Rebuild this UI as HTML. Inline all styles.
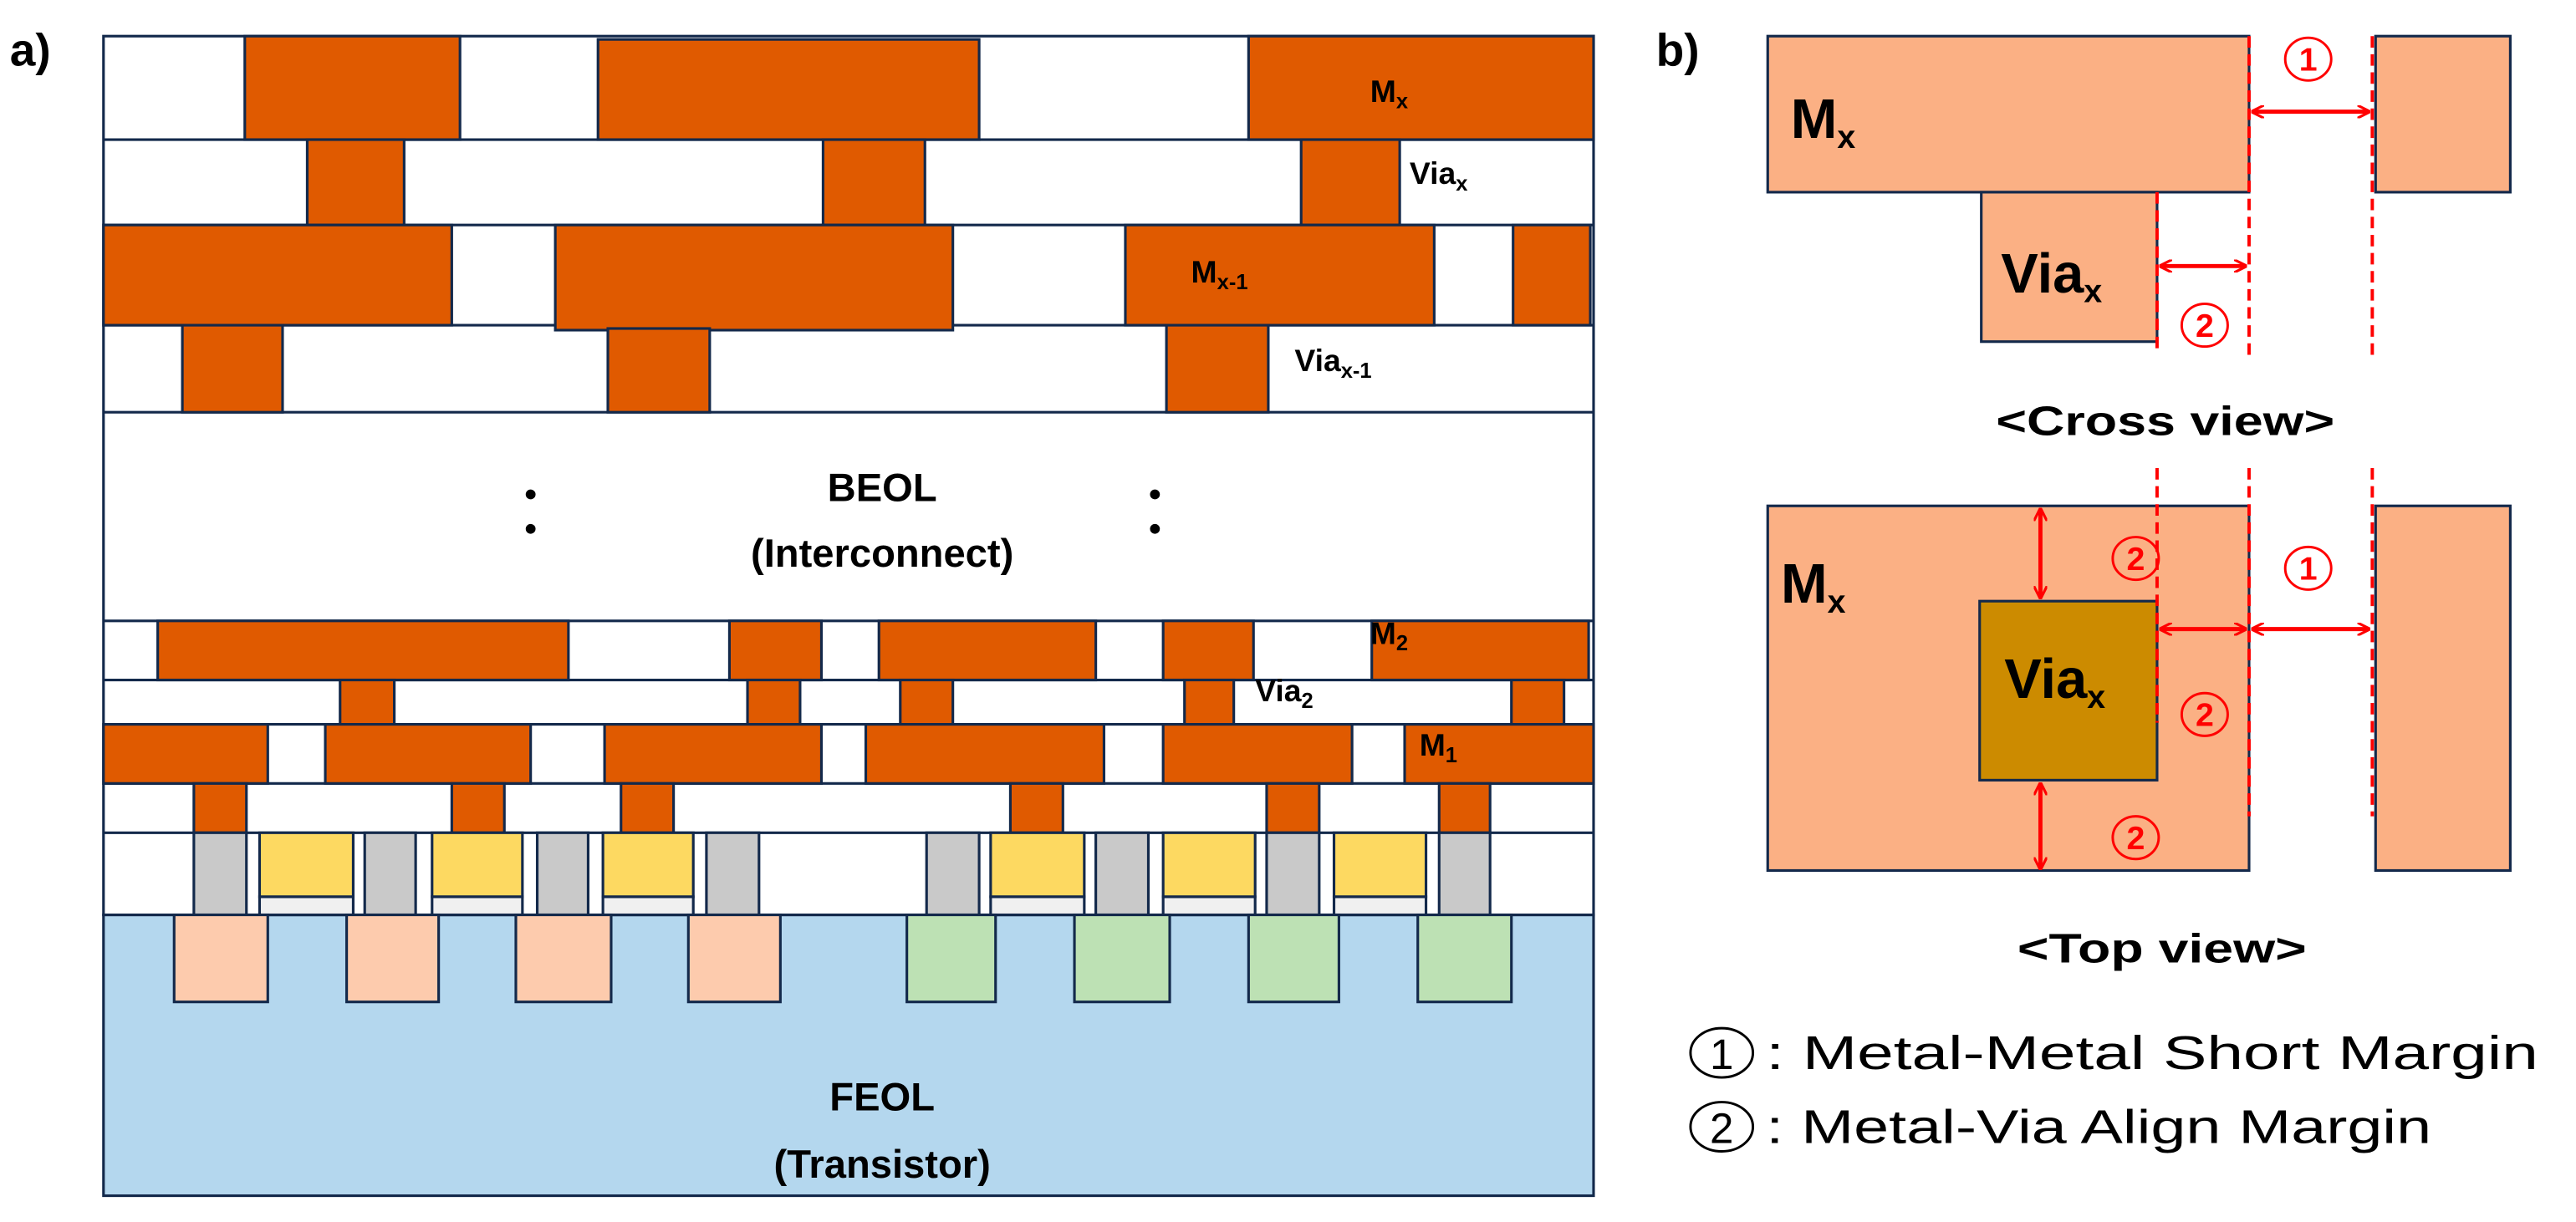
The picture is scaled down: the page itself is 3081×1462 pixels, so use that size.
<!DOCTYPE html>
<html><head><meta charset="utf-8"><style>html,body{margin:0;padding:0;background:#fff}svg{display:block}</style></head>
<body>
<svg width="3081" height="1462" viewBox="0 0 1568 744" preserveAspectRatio="none" xmlns="http://www.w3.org/2000/svg">
<defs>
<marker id="ah" viewBox="0 0 10 10" refX="9" refY="5" markerWidth="8" markerHeight="8" orient="auto-start-reverse" markerUnits="userSpaceOnUse"><path d="M0,0 L10,5 L0,10" fill="none" stroke="#f00" stroke-width="2"/></marker>
</defs>
<g font-family="Liberation Sans, sans-serif" font-weight="bold">
<text x="6" y="40" font-size="28">a)</text>
<text x="1008" y="40" font-size="28">b)</text>
</g>
<g stroke="#13294b" stroke-width="1.6">
<rect x="63" y="557" width="907" height="171" fill="#b4d7ee"/>
<rect x="63" y="22" width="907" height="535" fill="#fff"/>
<line x1="63" x2="970" y1="85" y2="85"/><line x1="63" x2="970" y1="137" y2="137"/>
<line x1="63" x2="970" y1="198" y2="198"/><line x1="63" x2="970" y1="251" y2="251"/>
<line x1="63" x2="970" y1="378" y2="378"/><line x1="63" x2="970" y1="414" y2="414"/>
<line x1="63" x2="970" y1="441" y2="441"/><line x1="63" x2="970" y1="477" y2="477"/>
<line x1="63" x2="970" y1="507" y2="507"/>
<g fill="#e05a00">
<rect x="149" y="22" width="131" height="63"/><rect x="364" y="24" width="232" height="61"/><rect x="760" y="22" width="210" height="63"/>
<rect x="187" y="85" width="59" height="52"/><rect x="501" y="85" width="62" height="52"/><rect x="792" y="85" width="60" height="52"/>
<rect x="63" y="137" width="212" height="61"/><rect x="338" y="137" width="242" height="64"/><rect x="685" y="137" width="188" height="61"/><rect x="921" y="137" width="47" height="61"/>
<rect x="111" y="198" width="61" height="53"/><rect x="370" y="200" width="62" height="51"/><rect x="710" y="198" width="62" height="53"/>
<rect x="96" y="378" width="250" height="36"/><rect x="444" y="378" width="56" height="36"/><rect x="535" y="378" width="132" height="36"/><rect x="708" y="378" width="55" height="36"/><rect x="835" y="378" width="132" height="36"/>
<rect x="207" y="414" width="33" height="27"/><rect x="455" y="414" width="32" height="27"/><rect x="548" y="414" width="32" height="27"/><rect x="721" y="414" width="30" height="27"/><rect x="920" y="414" width="32" height="27"/>
<rect x="63" y="441" width="100" height="36"/><rect x="198" y="441" width="125" height="36"/><rect x="368" y="441" width="132" height="36"/><rect x="527" y="441" width="145" height="36"/><rect x="708" y="441" width="115" height="36"/><rect x="855" y="441" width="115" height="36"/>
<rect x="118" y="477" width="32" height="30"/><rect x="275" y="477" width="32" height="30"/><rect x="378" y="477" width="32" height="30"/><rect x="615" y="477" width="32" height="30"/><rect x="771" y="477" width="32" height="30"/><rect x="876" y="477" width="31" height="30"/>
</g>
<g fill="#c9c9c9">
<rect x="118" y="507" width="32" height="50"/><rect x="222" y="507" width="31" height="50"/><rect x="327" y="507" width="31" height="50"/><rect x="430" y="507" width="32" height="50"/>
<rect x="564" y="507" width="32" height="50"/><rect x="667" y="507" width="32" height="50"/><rect x="771" y="507" width="32" height="50"/><rect x="876" y="507" width="31" height="50"/>
</g>
<g fill="#fdd961">
<rect x="158" y="507" width="57" height="39"/><rect x="263" y="507" width="55" height="39"/><rect x="367" y="507" width="55" height="39"/>
<rect x="603" y="507" width="57" height="39"/><rect x="708" y="507" width="56" height="39"/><rect x="812" y="507" width="56" height="39"/>
</g>
<g fill="#f0f0f0">
<rect x="158" y="546" width="57" height="11"/><rect x="263" y="546" width="55" height="11"/><rect x="367" y="546" width="55" height="11"/>
<rect x="603" y="546" width="57" height="11"/><rect x="708" y="546" width="56" height="11"/><rect x="812" y="546" width="56" height="11"/>
</g>
<g fill="#fdcbad"><rect x="106" y="557" width="57" height="53"/><rect x="211" y="557" width="56" height="53"/><rect x="314" y="557" width="58" height="53"/><rect x="419" y="557" width="56" height="53"/></g>
<g fill="#bde1b4"><rect x="552" y="557" width="54" height="53"/><rect x="654" y="557" width="58" height="53"/><rect x="760" y="557" width="55" height="53"/><rect x="863" y="557" width="57" height="53"/></g>
</g>
<g fill="#000"><circle cx="323" cy="301" r="3"/><circle cx="323" cy="322" r="3"/><circle cx="703" cy="301" r="3"/><circle cx="703" cy="322" r="3"/></g>
<g font-family="Liberation Sans, sans-serif" font-weight="bold" fill="#000">
<text x="537" y="305" font-size="24" text-anchor="middle">BEOL</text>
<text x="537" y="345" font-size="24" text-anchor="middle">(Interconnect)</text>
<text x="537" y="676" font-size="24" text-anchor="middle">FEOL</text>
<text x="537" y="717" font-size="24" text-anchor="middle">(Transistor)</text>
<g font-size="19">
<text x="834" y="62">M<tspan font-size="13" dy="4">x</tspan></text>
<text x="858" y="112">Via<tspan font-size="13" dy="4">x</tspan></text>
<text x="725" y="172">M<tspan font-size="13" dy="4">x-1</tspan></text>
<text x="788" y="226">Via<tspan font-size="13" dy="4">x-1</tspan></text>
<text x="834" y="392">M<tspan font-size="13" dy="4">2</tspan></text>
<text x="764" y="427">Via<tspan font-size="13" dy="4">2</tspan></text>
<text x="864" y="460">M<tspan font-size="13" dy="4">1</tspan></text>
</g>
</g>
<!-- panel b -->
<g stroke="#13294b" stroke-width="1.6" fill="#fbb084">
<rect x="1076" y="22" width="293" height="95"/><rect x="1446" y="22" width="82" height="95"/>
<rect x="1206" y="117" width="107" height="91"/>
<rect x="1076" y="308" width="293" height="222"/><rect x="1446" y="308" width="82" height="222"/>
<rect x="1205" y="366" width="108" height="109" fill="#cc8b00"/>
</g>
<g stroke="#f00" stroke-width="2" stroke-dasharray="7,4" fill="none">
<line x1="1313" y1="117" x2="1313" y2="212"/><line x1="1369" y1="22" x2="1369" y2="218"/><line x1="1444" y1="22" x2="1444" y2="218"/>
<line x1="1313" y1="285" x2="1313" y2="440"/><line x1="1369" y1="285" x2="1369" y2="497"/><line x1="1444" y1="285" x2="1444" y2="497"/>
</g>
<g stroke="#f00" stroke-width="2.5" marker-start="url(#ah)" marker-end="url(#ah)">
<line x1="1371" y1="68" x2="1442" y2="68"/>
<line x1="1315" y1="162" x2="1367" y2="162"/>
<line x1="1315" y1="383" x2="1367" y2="383"/>
<line x1="1371" y1="383" x2="1442" y2="383"/>
<line x1="1242" y1="310" x2="1242" y2="364"/>
<line x1="1242" y1="477" x2="1242" y2="529"/>
</g>
<g fill="none" stroke="#f00" stroke-width="1.5">
<ellipse cx="1405" cy="36" rx="14" ry="13"/><ellipse cx="1342" cy="198" rx="14" ry="13"/>
<ellipse cx="1300" cy="340" rx="14" ry="13"/><ellipse cx="1405" cy="346" rx="14" ry="13"/>
<ellipse cx="1342" cy="435" rx="14" ry="13"/><ellipse cx="1300" cy="510" rx="14" ry="13"/>
</g>
<g font-family="Liberation Sans, sans-serif" font-weight="bold" fill="#f00" font-size="20" text-anchor="middle">
<text x="1405" y="43">1</text><text x="1342" y="205">2</text>
<text x="1300" y="347">2</text><text x="1405" y="353">1</text><text x="1342" y="442">2</text><text x="1300" y="517">2</text>
</g>
<g font-family="Liberation Sans, sans-serif" font-weight="bold" fill="#000">
<text x="1090" y="84" font-size="34">M<tspan font-size="20" dy="6">x</tspan></text>
<text x="1218" y="178" font-size="34">Via<tspan font-size="20" dy="6">x</tspan></text>
<text x="1084" y="367" font-size="34">M<tspan font-size="20" dy="6">x</tspan></text>
<text x="1220" y="425" font-size="34">Via<tspan font-size="20" dy="6">x</tspan></text>
<text x="1215" y="265" font-size="25" textLength="206" lengthAdjust="spacingAndGlyphs">&lt;Cross view&gt;</text>
<text x="1228" y="586" font-size="25" textLength="176" lengthAdjust="spacingAndGlyphs">&lt;Top view&gt;</text>
</g>
<g fill="none" stroke="#000" stroke-width="1.5">
<ellipse cx="1048" cy="641" rx="19" ry="15"/><ellipse cx="1048" cy="686" rx="19" ry="15"/>
</g>
<g font-family="Liberation Sans, sans-serif" fill="#000">
<text x="1048" y="651" font-size="26" text-anchor="middle">1</text>
<text x="1048" y="696" font-size="26" text-anchor="middle">2</text>
<text x="1075" y="651" font-size="29" textLength="470" lengthAdjust="spacingAndGlyphs">: Metal-Metal Short Margin</text>
<text x="1075" y="696" font-size="29" textLength="405" lengthAdjust="spacingAndGlyphs">: Metal-Via Align Margin</text>
</g>
</svg>
</body></html>
